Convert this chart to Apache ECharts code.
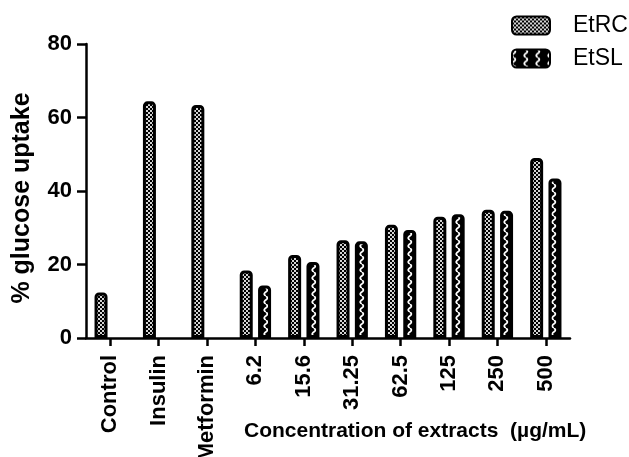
<!DOCTYPE html>
<html>
<head>
<meta charset="utf-8">
<style>
  html, body { margin: 0; padding: 0; background: #ffffff; }
  #chart { width: 629px; height: 457px; }
</style>
<script src="https://cdn.jsdelivr.net/npm/echarts@6/dist/echarts.min.js"></script>
</head>
<body>
<div id="chart"></div>
<script>
// ---- data ----
const categories = ['Control', 'Insulin', 'Metformin', '6.2', '15.6', '31.25', '62.5', '125', '250', '500'];
const seriesNames = ['EtRC', 'EtSL'];
const etrcValues = [12.4, 64.4, 63.4, 18.4, 22.6, 26.6, 30.8, 33.0, 34.9, 49.0];
const etslValues = [null, null, null, 14.3, 20.7, 26.3, 29.4, 33.7, 34.6, 43.4];
const yTicks = { min: 0, max: 80, interval: 20 };
const yTitle = '% glucose uptake';
const xTitle = 'Concentration of extracts  (µg/mL)';

// ---- fill patterns ----
function checkerPattern() {
  const c = document.createElement('canvas');
  c.width = 4; c.height = 4;
  const g = c.getContext('2d');
  g.fillStyle = '#000';
  g.fillRect(0, 0, 4, 4);
  g.fillStyle = '#d4d4d4';
  g.fillRect(0, 0, 2, 2);
  g.fillRect(2, 2, 2, 2);
  return { image: c, repeat: 'repeat' };
}
function wavePattern() {
  const c = document.createElement('canvas');
  c.width = 12; c.height = 8;
  const g = c.getContext('2d');
  g.fillStyle = '#000';
  g.fillRect(0, 0, 12, 8);
  g.strokeStyle = '#fff';
  g.lineWidth = 1.7;
  [1.8, 13.8, -10.2].forEach(function (cx) {
    g.beginPath();
    g.moveTo(cx, 0);
    g.quadraticCurveTo(cx + 3.2, 2, cx, 4);
    g.quadraticCurveTo(cx - 3.2, 6, cx, 8);
    g.stroke();
  });
  return { image: c, repeat: 'repeat' };
}

const FONT = '"Liberation Sans", Arial, Helvetica, sans-serif';
const chart = echarts.init(document.getElementById('chart'), null, { renderer: 'canvas' });

const barCommon = {
  type: 'bar',
  barWidth: 13,
  barGap: '41%',
  animation: false
};

chart.setOption({
  backgroundColor: '#ffffff',
  animation: false,
  title: {
    text: xTitle,
    left: 244,
    top: 421,
    padding: 0,
    textStyle: { fontFamily: FONT, fontWeight: 'bold', fontSize: 21, color: '#000' }
  },
  legend: {
    orient: 'vertical',
    left: 511,
    top: 14,
    padding: 0,
    itemWidth: 38,
    itemHeight: 18,
    itemGap: 10,
    icon: 'roundRect',
    textStyle: { fontFamily: FONT, fontSize: 23, color: '#000', padding: [0, 0, 0, 18] },
    data: seriesNames
  },
  grid: { left: 86, right: 59, top: 44, bottom: 119, containLabel: false, outerBoundsMode: 'none' },
  xAxis: {
    type: 'category',
    data: categories,
    axisLine: { show: true, lineStyle: { color: '#000', width: 2.5 } },
    axisTick: { show: true, alignWithLabel: true, length: 8, lineStyle: { color: '#000', width: 2.5 } },
    axisLabel: {
      rotate: 90, interval: 0, margin: 17,
      fontFamily: FONT, fontWeight: 'bold', fontSize: 22, color: '#000'
    },
    splitLine: { show: false }
  },
  yAxis: {
    type: 'value',
    min: yTicks.min, max: yTicks.max, interval: yTicks.interval,
    name: yTitle,
    nameLocation: 'middle',
    nameGap: 51,
    nameRotate: 90,
    nameTextStyle: { fontFamily: FONT, fontWeight: 'bold', fontSize: 25, color: '#000', padding: [0, 14, 0, 0] },
    axisLine: { show: true, lineStyle: { color: '#000', width: 2.5 } },
    axisTick: { show: true, length: 9, lineStyle: { color: '#000', width: 2.5 } },
    axisLabel: { margin: 14, fontFamily: FONT, fontWeight: 'bold', fontSize: 22, color: '#000' },
    splitLine: { show: false }
  },
  series: [
    Object.assign({}, barCommon, {
      name: seriesNames[0],
      data: etrcValues,
      itemStyle: { color: checkerPattern(), borderColor: '#000', borderWidth: 3, borderRadius: [3, 3, 0, 0] }
    }),
    Object.assign({}, barCommon, {
      name: seriesNames[1],
      data: etslValues,
      itemStyle: { color: wavePattern(), borderColor: '#000', borderWidth: 3, borderRadius: [3, 3, 0, 0] }
    })
  ]
});
</script>
</body>
</html>
